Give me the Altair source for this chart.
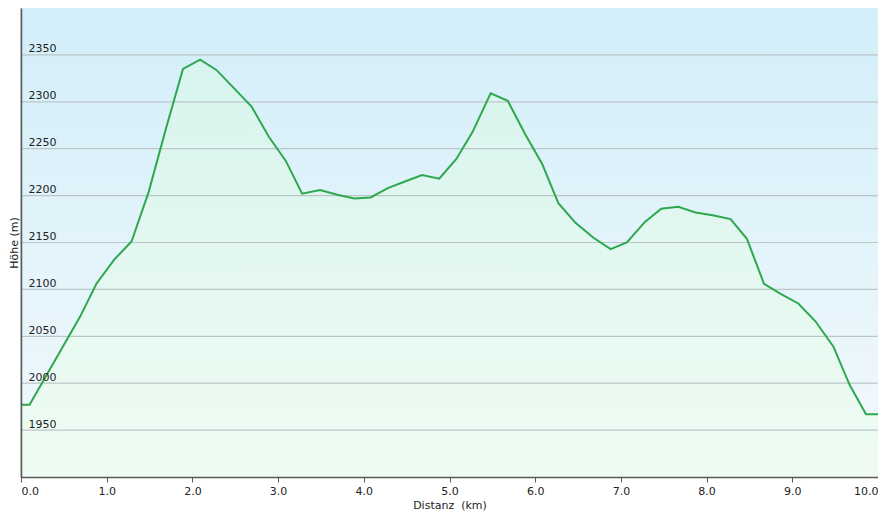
import altair as alt
import pandas as pd

dist = [0.00, 0.10, 0.69, 0.88, 1.09, 1.29, 1.49, 1.69, 1.89, 2.09, 2.28, 2.49, 2.69, 2.89,
        3.09, 3.28, 3.49, 3.69, 3.89, 4.08, 4.28, 4.48, 4.68, 4.88, 5.08, 5.27, 5.48, 5.68,
        5.88, 6.08, 6.27, 6.47, 6.68, 6.88, 7.07, 7.28, 7.47, 7.67, 7.87, 8.07, 8.28, 8.47,
        8.67, 8.87, 9.07, 9.27, 9.48, 9.67, 9.86, 10.00]
elev = [1977, 1977, 2071, 2106, 2132, 2151, 2204, 2271, 2335, 2345, 2334, 2314, 2295, 2263,
        2237, 2202, 2206, 2201, 2197, 2198, 2208, 2215, 2222, 2218, 2239, 2268, 2309, 2301,
        2266, 2234, 2192, 2171, 2155, 2143, 2150, 2172, 2186, 2188, 2182, 2179, 2175, 2154,
        2106, 2095, 2085, 2066, 2039, 1998, 1967, 1967]

y_ticks = [1950, 2000, 2050, 2100, 2150, 2200, 2250, 2300, 2350]
x_ticks = [0, 1, 2, 3, 4, 5, 6, 7, 8, 9, 10]

W, H = 857, 469
FONT = "DejaVu Sans"

df = pd.DataFrame({"dist": dist, "elev": elev})
grid_df = pd.DataFrame({"g": y_ticks})

xscale = alt.Scale(domain=[0, 10], nice=False)
yscale = alt.Scale(domain=[1900, 2400], nice=False, zero=False)

bg = alt.Chart(alt.Data(values=[{"a": 1}])).mark_rect(
    color=alt.Gradient(
        gradient="linear",
        stops=[alt.GradientStop(color="#d2eef9", offset=0),
               alt.GradientStop(color="#f3f9fd", offset=1)],
        x1=0, x2=0, y1=0, y2=1,
    )
).encode(x=alt.value(0), x2=alt.value(W), y=alt.value(0), y2=alt.value(H))

base = alt.Chart(df)

area = base.mark_area(
    color=alt.Gradient(
        gradient="linear",
        stops=[alt.GradientStop(color="#d8f4ee", offset=0),
               alt.GradientStop(color="#effcf3", offset=1)],
        x1=0, x2=0, y1=0, y2=1,
    )
).encode(
    x=alt.X("dist:Q", scale=xscale,
            axis=alt.Axis(values=x_ticks, format=".1f", title="Distanz\u00a0 (km)",
                          grid=False, tickSize=5, labelPadding=3, labelFlush=True,
                          titlePadding=3, zindex=1)),
    y=alt.Y("elev:Q", scale=yscale,
            axis=alt.Axis(values=y_ticks, format="d", title="Höhe (m)", grid=False,
                          ticks=False, tickSize=0, labelAlign="left", labelPadding=-7,
                          labelBaseline="alphabetic", labelOffset=-3,
                          titleX=-7, titleY=H / 2, titleAngle=270,
                          titleBaseline="middle", titleAlign="center", zindex=1)),
    y2=alt.datum(1900),
)

grid = alt.Chart(grid_df).mark_rule(color="#bcc6c9", strokeWidth=1.2).encode(
    y=alt.Y("g:Q", scale=yscale),
)

line = base.mark_line(color="#2ea84e", strokeWidth=2).encode(
    x=alt.X("dist:Q", scale=xscale),
    y=alt.Y("elev:Q", scale=yscale),
)

chart = alt.layer(bg, area, grid, line).properties(
    width=W, height=H,
    autosize=alt.AutoSizeParams(type="none"),
    padding={"left": 13, "top": 0, "right": 0, "bottom": 37},
).configure_view(
    stroke="#bfc7ca", strokeWidth=1.5
).configure_axis(
    labelFont=FONT, titleFont=FONT, labelFontSize=11, titleFontSize=11,
    labelColor="#222222", titleColor="#222222", titleFontWeight="normal",
    domainColor="#5a5a5a", domainWidth=1.5, tickColor="#5a5a5a",
)

chart.save("out.html", embed_options={"renderer": "svg", "actions": False})
